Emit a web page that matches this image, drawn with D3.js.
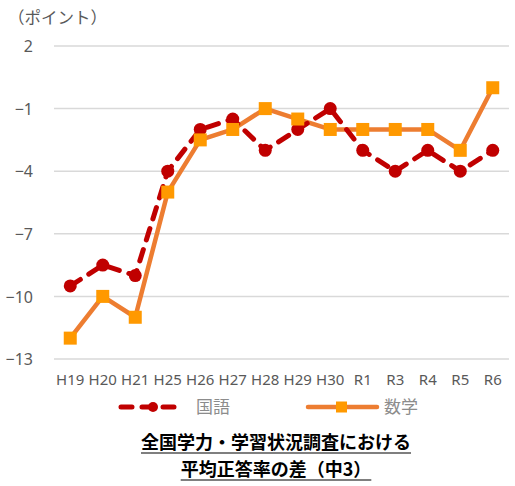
<!DOCTYPE html>
<html>
<head>
<meta charset="utf-8">
<script src="https://cdn.jsdelivr.net/npm/d3@7"></script>
<style>
  body { margin: 0; background: #fff; }
  svg { display: block; }
</style>
</head>
<body>
<div id="chart"></div>
<script>
const categories = ["H19", "H20", "H21", "H25", "H26", "H27", "H28", "H29", "H30", "R1", "R3", "R4", "R5", "R6"];
const kokugo = [-9.5, -8.5, -9, -4, -2, -1.5, -3, -2, -1, -3, -4, -3, -4, -3];
const sugaku = [-12, -10, -11, -5, -2.5, -2, -1, -1.5, -2, -2, -2, -2, -3, 0];
const yTicks = [2, -1, -4, -7, -10, -13];
const seriesNames = ["国語", "数学"];
const titleLines = ["全国学力・学習状況調査における", "平均正答率の差（中3）"];

const width = 515, height = 486;
const margin = { top: 46, right: 6, bottom: 127, left: 54 };

const svg = d3.select("#chart").append("svg")
    .attr("width", width)
    .attr("height", height);

const x = d3.scaleBand()
    .domain(categories)
    .range([margin.left, width - margin.right]);

const y = d3.scaleLinear()
    .domain([-13, 2])
    .range([height - margin.bottom, margin.top]);

const font = "'Noto Sans', 'Noto Sans CJK JP', sans-serif";

// gridlines
svg.append("g")
    .selectAll("line")
    .data(yTicks)
    .join("line")
    .attr("x1", margin.left)
    .attr("x2", width - margin.right)
    .attr("y1", d => y(d))
    .attr("y2", d => y(d))
    .attr("stroke", "#d9d9d9")
    .attr("stroke-width", 1.5);

// y axis labels
const yAxis = svg.append("g")
    .attr("transform", `translate(${margin.left - 18},0)`)
    .call(d3.axisLeft(y).tickValues(yTicks).tickSize(0).tickFormat(d3.format("d")));
yAxis.select(".domain").remove();
yAxis.selectAll("text")
    .attr("fill", "#595959")
    .style("font-family", font)
    .style("font-size", "16px")
    .attr("dy", "0.35em");

// x axis labels
const xAxis = svg.append("g")
    .attr("transform", `translate(0,${y(-13) + 12})`)
    .call(d3.axisBottom(x).tickSize(0));
xAxis.select(".domain").remove();
xAxis.selectAll("text")
    .attr("fill", "#595959")
    .style("font-family", font)
    .style("font-size", "15px");

// unit label
svg.append("text")
    .attr("x", 8)
    .attr("y", 24)
    .attr("fill", "#595959")
    .style("font-family", font)
    .style("font-size", "16.5px")
    .text("（ポイント）");

const cx = d => x(d) + x.bandwidth() / 2;

const line = d3.line()
    .x((d, i) => cx(categories[i]))
    .y(d => y(d));

// 数学
svg.append("path")
    .datum(sugaku)
    .attr("fill", "none")
    .attr("stroke", "#ed7d31")
    .attr("stroke-width", 4.5)
    .attr("stroke-linejoin", "round")
    .attr("d", line);

// 国語
svg.append("path")
    .datum(kokugo)
    .attr("fill", "none")
    .attr("stroke", "#c00000")
    .attr("stroke-width", 5)
    .attr("stroke-linecap", "round")
    .attr("stroke-dasharray", "12,10")
    .attr("d", line);

svg.append("g")
    .selectAll("circle")
    .data(kokugo)
    .join("circle")
    .attr("cx", (d, i) => cx(categories[i]))
    .attr("cy", d => y(d))
    .attr("r", 6.5)
    .attr("fill", "#c00000");

svg.append("g")
    .selectAll("rect")
    .data(sugaku)
    .join("rect")
    .attr("x", (d, i) => cx(categories[i]) - 6.5)
    .attr("y", d => y(d) - 6.5)
    .attr("width", 13)
    .attr("height", 13)
    .attr("fill", "#ff9900");

// legend
const legY = 407;
const leg1 = svg.append("g");
leg1.append("line")
    .attr("x1", 121).attr("x2", 181)
    .attr("y1", legY).attr("y2", legY)
    .attr("stroke", "#c00000")
    .attr("stroke-width", 5)
    .attr("stroke-linecap", "round")
    .attr("stroke-dasharray", "11,10");
leg1.append("circle")
    .attr("cx", 153).attr("cy", legY).attr("r", 5)
    .attr("fill", "#c00000");
leg1.append("text")
    .attr("x", 196).attr("y", legY + 6)
    .attr("fill", "#8c8c8c")
    .style("font-family", font)
    .style("font-size", "17px")
    .text(seriesNames[0]);

const leg2 = svg.append("g");
leg2.append("line")
    .attr("x1", 308).attr("x2", 377)
    .attr("y1", legY).attr("y2", legY)
    .attr("stroke", "#ed7d31")
    .attr("stroke-width", 4.5)
    .attr("stroke-linecap", "round");
leg2.append("rect")
    .attr("x", 336).attr("y", legY - 5.5)
    .attr("width", 11).attr("height", 11)
    .attr("fill", "#ff9900");
leg2.append("text")
    .attr("x", 384).attr("y", legY + 6)
    .attr("fill", "#8c8c8c")
    .style("font-family", font)
    .style("font-size", "17px")
    .text(seriesNames[1]);

// title with underline
titleLines.forEach((t, i) => {
    const ty = 449 + i * 27;
    const txt = svg.append("text")
        .attr("x", 276)
        .attr("y", ty)
        .attr("text-anchor", "middle")
        .attr("fill", "#000")
        .style("font-family", "'Noto Sans CJK JP', sans-serif")
        .style("font-weight", "bold")
        .style("font-size", "18px")
        .text(t);
    const bb = txt.node().getBBox();
    svg.append("line")
        .attr("x1", bb.x)
        .attr("x2", bb.x + bb.width)
        .attr("y1", ty + 4)
        .attr("y2", ty + 4)
        .attr("stroke", "#555")
        .attr("stroke-width", 1.5);
});
</script>
</body>
</html>
